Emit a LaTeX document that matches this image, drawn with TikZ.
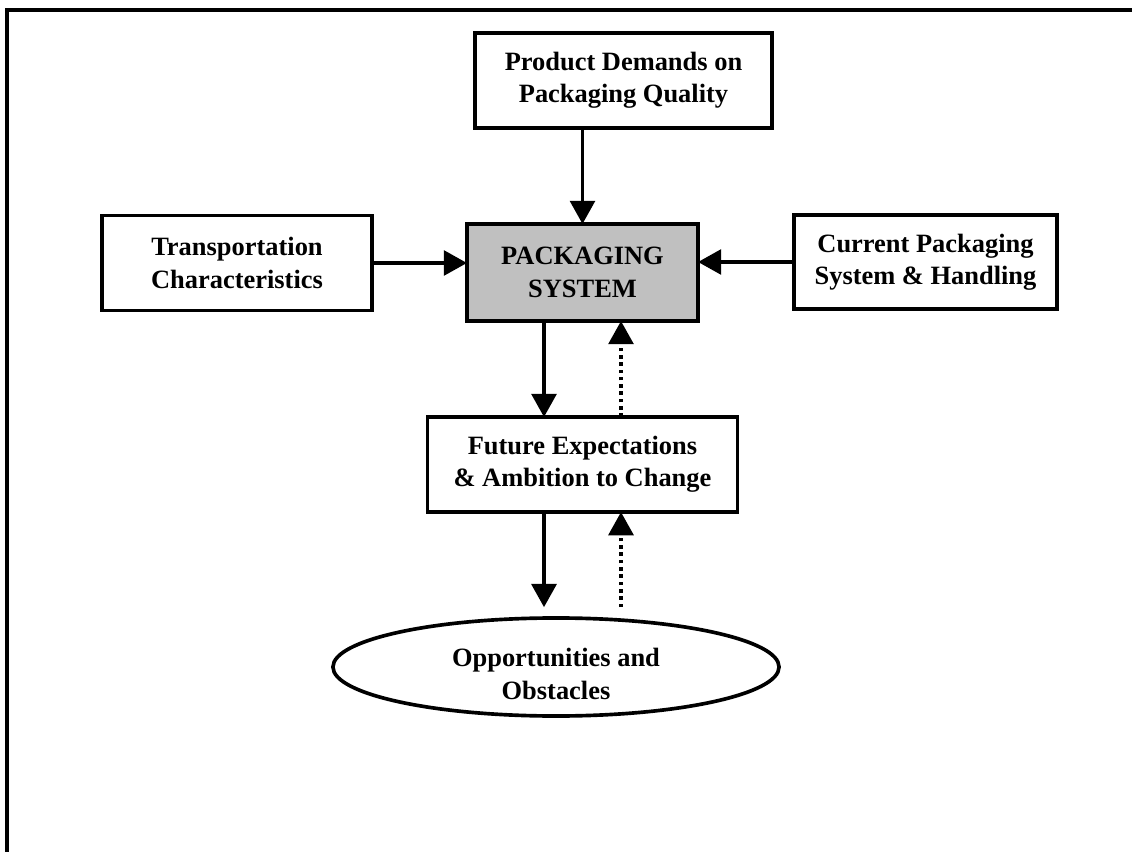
\documentclass[tikz,border=0pt]{standalone}
\usepackage{fontspec}
\setmainfont{Liberation Serif}
\usetikzlibrary{arrows.meta, positioning, calc, shapes.geometric}
\definecolor{sysgray}{RGB}{192,192,192}

\begin{document}
\begin{tikzpicture}[
  x=0.025cm, y=-0.025cm,
  node distance=2.4cm,
  box/.style={rectangle, draw, line width=2.6pt, inner sep=0pt, outer sep=0pt, align=center, font=\fontsize{18.8}{23}\selectfont\bfseries},
  arrow/.style={-{Triangle[length=0.58cm, width=0.62cm]}, line width=2.6pt},
  dotarrow/.style={arrow, dash pattern=on 2.6pt off 2.6pt}
]

% Page and frame
\clip (0,0) rectangle (1132,852);
\draw[line width=2.6pt] (7,860) |- (1140,10);

% Nodes
\node[box, fill=sysgray, minimum width=5.775cm, minimum height=2.425cm] (PS) at (582.5,272.5) {PACKAGING\\SYSTEM};
\node[box, minimum width=7.425cm, minimum height=2.375cm] (demand) at (623.5,80.5) {Product Demands on\\Packaging Quality};
\node[box, minimum width=6.75cm, minimum height=2.375cm] (trans) at (237,263) {Transportation\\Characteristics};
\node[box, minimum width=6.575cm, minimum height=2.35cm] (current) at (925.5,262) {Current Packaging\\System \& Handling};
\node[box, minimum width=7.75cm, minimum height=2.375cm] (future) [below=2.4cm of PS] {Future Expectations\\\& Ambition to Change};
\node[box, ellipse, minimum width=11.15cm, minimum height=2.45cm] (opp) at (556,667)
  {\raisebox{-0.39cm}[0pt][0pt]{\begin{tabular}{@{}c@{}}Opportunities and\\Obstacles\end{tabular}}};

% Inputs to the packaging system
\draw[arrow] (PS.north |- demand.south) -- (PS.north);
\draw[arrow] (trans.east) -- (trans.east -| PS.west);
\draw[arrow] (current.west) -- (current.west -| PS.east);

% Packaging system <-> future expectations
\draw[arrow] ($(PS.south)+(-38.5,0)$) -- ($(future.north)+(-38.5,0)$);
\draw[dotarrow] ($(future.north)+(38.5,0)$) -- ($(PS.south)+(38.5,0)$);

% Future expectations <-> opportunities
\coordinate (downL) at ($(future.south)+(-38.5,0)$);
\coordinate (upR) at ($(future.south)+(38.5,0)$);
\draw[arrow, shorten >=0.27cm] (downL) -- (downL |- opp.north);
\draw[dotarrow, shorten <=0.27cm] (upR |- opp.north) -- (upR);

\end{tikzpicture}
\end{document}
